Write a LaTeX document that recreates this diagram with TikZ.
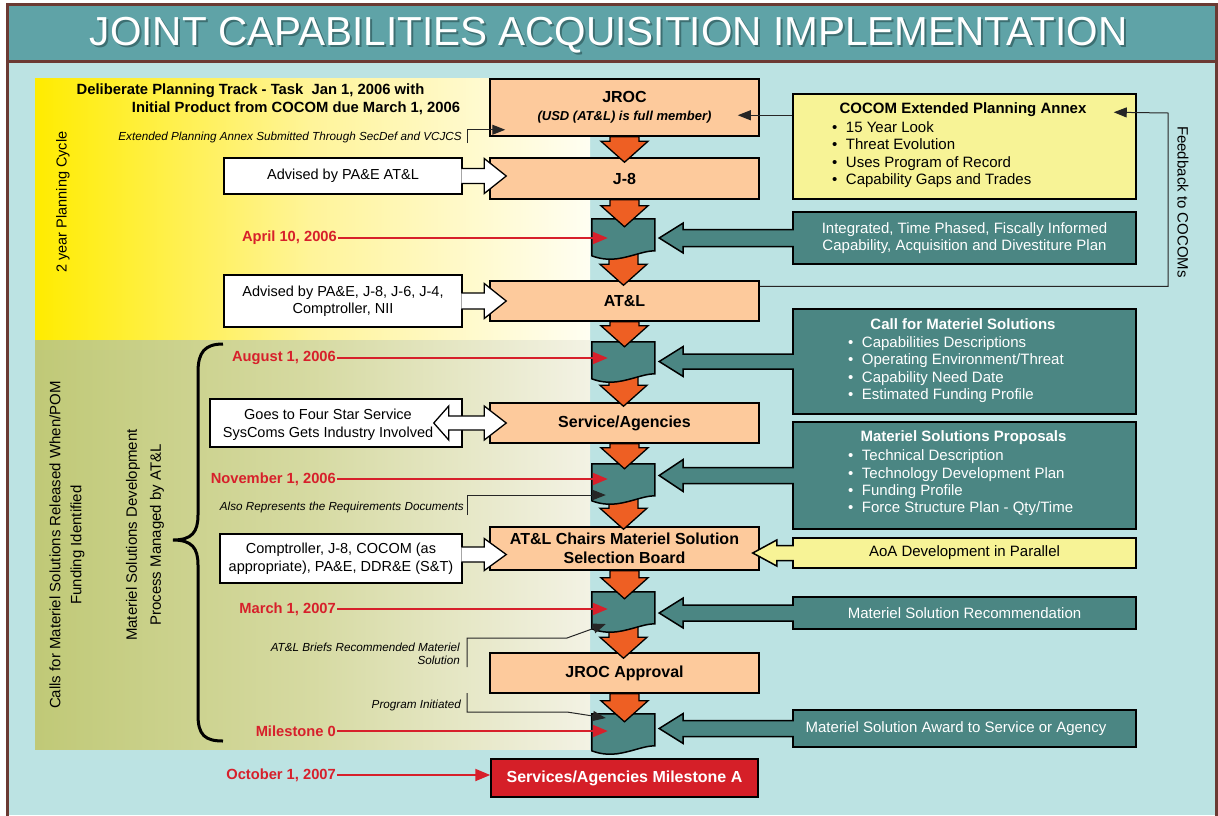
\documentclass[tikz,border=0pt]{standalone}
\usepackage{fontspec}
\setmainfont{Liberation Sans}
\usetikzlibrary{arrows.meta,calc}
\definecolor{cyanbg}{HTML}{BCE3E3}
\definecolor{titleteal}{HTML}{5FA3A7}
\definecolor{framebrown}{HTML}{6B3A33}
\definecolor{peach}{HTML}{FDCA9C}
\definecolor{orangearr}{HTML}{EE5F23}
\definecolor{tealbox}{HTML}{4B8683}
\definecolor{yellowbox}{HTML}{F7F396}
\definecolor{datered}{HTML}{D7202B}
\definecolor{msred}{HTML}{D51F28}
\definecolor{titleshadowc}{HTML}{3D6F72}
\definecolor{ylwL}{HTML}{FFEC00}
\definecolor{ylwM}{HTML}{FFF49A}
\definecolor{ylwR}{HTML}{FFFEF2}
\definecolor{grnL}{HTML}{C0C977}
\definecolor{grnM}{HTML}{D6DAA2}
\definecolor{grnR}{HTML}{F3F2E4}
\newcommand{\myfReg}{\fontsize{14.5}{17.5}\selectfont}
\newcommand{\myfRegB}{\fontsize{15}{17.4}\selectfont}
\newcommand{\myfBoldB}{\fontsize{15}{18}\selectfont\bfseries}
\newcommand{\myfHead}{\fontsize{16}{19.5}\selectfont\bfseries}
\newcommand{\myfNote}{\fontsize{11.7}{13.2}\selectfont\itshape}
\newcommand{\myfDel}{\fontsize{14.8}{17}\selectfont\bfseries}
\newcommand{\myfDate}{\fontsize{14.7}{17}\selectfont\bfseries}
% orange block arrow pointing down from #1 to tip #2
\newcommand{\downblock}[2]{\filldraw[oarr] let \p1=(#1), \p2=(#2) in (\x1-14.5pt,\y1) -- (\x1+14.5pt,\y1) -- (\x1+14.5pt,\y2+21pt) -- (\x1+23.5pt,\y2+21pt) -- (\x1,\y2) -- (\x1-23.5pt,\y2+21pt) -- (\x1-14.5pt,\y2+21pt) -- cycle;}
% callout arrow pointing left out of box #2 to tip #3
\newcommand{\leftcallout}[6]{\filldraw[#1] let \p1=(#3), \p2=(#2.west) in (\x2+1.5pt,\y1+#6) -- (\x1+#4,\y1+#6) -- (\x1+#4,\y1+#5) -- (\x1,\y1) -- (\x1+#4,\y1-#5) -- (\x1+#4,\y1-#6) -- (\x2+1.5pt,\y1-#6);}
% callout arrow pointing right out of box #2 to tip #3
\newcommand{\rightcallout}[6]{\filldraw[#1] let \p1=(#3), \p2=(#2.east) in (\x2-1.5pt,\y1+#6) -- (\x1-#4,\y1+#6) -- (\x1-#4,\y1+#5) -- (\x1,\y1) -- (\x1-#4,\y1-#5) -- (\x1-#4,\y1-#6) -- (\x2-1.5pt,\y1-#6);}
% document shape on an invisible node
\newcommand{\docshape}[1]{\begin{scope}[shift={(#1.north west)}]\filldraw[docst] (0,0) -- (63,0) -- (63,32) .. controls (52,32) and (40,38) .. (25,40) .. controls (15,41) and (8,40) .. (0,37) -- cycle;\end{scope}}
\tikzset{
  pbox/.style={draw=black, line width=1.5, fill=peach, minimum width=269, inner sep=0, align=center, font=\myfHead, text=black},
  wbox/.style={draw=black, line width=1.5, fill=white, inner sep=0, align=center, font=\myfReg},
  tbox/.style={draw=black, line width=1.5, fill=tealbox, minimum width=343, inner sep=0, align=center, text=white, font=\myfRegB},
  ybox/.style={draw=black, line width=1.5, fill=yellowbox, minimum width=343, inner sep=0, align=center, text=black, font=\myfRegB},
  datelbl/.style={font=\myfDate, text=datered, anchor=east, inner sep=1},
  notelbl/.style={font=\myfNote, anchor=east, inner sep=0, align=right},
  listlbl/.style={font=\myfRegB, align=left, anchor=west, inner sep=0},
  oarr/.style={fill=orangearr, draw=black, line width=1.3, line join=miter},
  redarr/.style={draw=datered, line width=2, -{Triangle[length=15pt,width=12pt]}},
  blkarr/.style={draw=black!85, line width=1, -{Triangle[length=13pt,width=10pt]}},
  docst/.style={fill=tealbox, draw=black, line width=1.5},
  docnode/.style={minimum width=63, minimum height=32, inner sep=0},
  wcall/.style={fill=white, draw=black, line width=1.3, line join=miter},
  tcall/.style={fill=tealbox, draw=black, line width=1.5, line join=miter},
  ycall/.style={fill=yellowbox, draw=black, line width=1.5, line join=miter},
}
\begin{document}
\begin{tikzpicture}[x=1pt,y=-1pt]
\useasboundingbox (0,0) rectangle (1218,815);
% background and frame
\fill[white] (0,0) rectangle (1218,815);
\fill[cyanbg] (7,62) rectangle (1216,815);
\fill[titleteal] (7,4) rectangle (1216,61);
\draw[framebrown, line width=3] (7,818) -- (7,4) -- (1216,4) -- (1216,818);
\draw[framebrown, line width=3] (7,61.5) -- (1216,61.5);
\node[font=\fontsize{40.5}{44}\selectfont, text=titleshadowc] (titlesh) at (610.5,37) {JOINT CAPABILITIES ACQUISITION IMPLEMENTATION};
\node[font=\fontsize{40.5}{44}\selectfont, text=white] (title) at (608.5,35) {JOINT CAPABILITIES ACQUISITION IMPLEMENTATION};
% planning regions
\shade[left color=ylwL, right color=ylwR, middle color=ylwM] (35,78) rectangle (590,340);
\shade[left color=grnL, right color=grnR, middle color=grnM] (35,340) rectangle (590,749);
% rotated side labels
\node[rotate=90, font=\fontsize{14.5}{18}\selectfont] (cyc) at (63,202) {2 year Planning Cycle};
\node[rotate=90, align=center, font=\fontsize{15}{21}\selectfont] (calls) at (67,545) {Calls for Materiel Solutions Released When/POM\\Funding Identified};
\node[rotate=90, align=center, font=\fontsize{15}{24}\selectfont] (matdev) at (145,535) {Materiel Solutions Development\\Process Managed by AT\&L};
% brace
\draw[line width=3] (223,344) .. controls (205,344) and (198,352) .. (198,372) -- (198,515) .. controls (198,532) and (192,540) .. (173,540) .. controls (192,540) and (198,548) .. (198,565) -- (198,715) .. controls (198,735) and (205,741) .. (223,741);
% heading text
\node[font=\myfDel] (del1) at (250.5,91) {Deliberate Planning Track - Task\ \ Jan 1, 2006 with};
\node[font=\myfDel] (del2) at (296,108) {Initial Product from COCOM due March 1, 2006};
% notes
\node[notelbl] (n1) at (462,137) {Extended Planning Annex Submitted Through SecDef and VCJCS};
\node[notelbl] (n2) at (464,507) {Also Represents the Requirements Documents};
\node[notelbl] (n3) at (460,653.5) {AT\&L Briefs Recommended Materiel\\Solution};
\node[notelbl] (n4) at (461,705) {Program Initiated};
% dates
\node[datelbl] (apr) at (338,238) {April 10, 2006};
\node[datelbl] (aug) at (337,358) {August 1, 2006};
\node[datelbl] (nov) at (337,479) {November 1, 2006};
\node[datelbl] (mar) at (337,609) {March 1, 2007};
\node[datelbl] (ms0) at (337,731) {Milestone 0};
\node[datelbl] (oct) at (337,775) {October 1, 2007};
% right boxes
\node[ybox, minimum height=105] (cocom) at (964.5,146.5) {};
\node[font=\myfBoldB] (cocomt) at (963,110) {COCOM Extended Planning Annex};
\node[listlbl] (cocoml) at (832,154.5) {\textbullet\hspace{8.5pt}15 Year Look\\\textbullet\hspace{8.5pt}Threat Evolution\\\textbullet\hspace{8.5pt}Uses Program of Record\\\textbullet\hspace{8.5pt}Capability Gaps and Trades};
\node[tbox, minimum height=52] (integ) at (964.5,238) {Integrated, Time Phased, Fiscally Informed\\Capability, Acquisition and Divestiture Plan};
\node[tbox, minimum height=105] (call) at (964.5,361.5) {};
\node[font=\myfBoldB, text=white] (callt) at (963,324) {Call for Materiel Solutions};
\node[listlbl, text=white] (calll) at (848,369.5) {\textbullet\hspace{8.5pt}Capabilities Descriptions\\\textbullet\hspace{8.5pt}Operating Environment/Threat\\\textbullet\hspace{8.5pt}Capability Need Date\\\textbullet\hspace{8.5pt}Estimated Funding Profile};
\node[tbox, minimum height=107] (props) at (964.5,475.5) {};
\node[font=\myfBoldB, text=white] (propst) at (963.5,438) {Materiel Solutions Proposals};
\node[listlbl, text=white] (propsl) at (848,483) {\textbullet\hspace{8.5pt}Technical Description\\\textbullet\hspace{8.5pt}Technology Development Plan\\\textbullet\hspace{8.5pt}Funding Profile\\\textbullet\hspace{8.5pt}Force Structure Plan - Qty/Time};
\node[ybox, minimum height=30] (aoa) at (964.5,553) {AoA Development in Parallel};
\node[tbox, minimum height=32] (rec) at (964.5,613) {Materiel Solution Recommendation};
\node[tbox, minimum height=37] (award) at (964.5,728.5) {Materiel Solution Award to Service or Agency\hspace*{17pt}};
% centre column boxes
\node[pbox, minimum height=57] (jroc) at (624.5,107.5) {JROC\\[-1pt]{\fontsize{13}{15}\selectfont\itshape (USD (AT\&L) is full member)}};
\node[pbox, minimum height=41] (j8) at (624.5,178.5) {J-8};
\node[pbox, minimum height=40] (atl) at (624.5,301) {AT\&L};
\node[pbox, minimum height=40] (serv) at (624.5,423) {Service/Agencies};
\node[pbox, minimum height=43] (chairs) at (624.5,548.5) {AT\&L Chairs Materiel Solution\\Selection Board};
\node[pbox, minimum height=40] (jrocapp) at (624.5,673) {JROC Approval};
\node[pbox, fill=msred, text=white, minimum height=38, minimum width=267] (msa) at (624.5,778) {Services/Agencies Milestone A};
% document nodes
\node[docnode] (d1) at (623.5,235) {};
\node[docnode] (d2) at (623.5,358) {};
\node[docnode] (d3) at (623.5,480) {};
\node[docnode] (d4) at (623.5,608) {};
\node[docnode] (d5) at (623.5,730) {};
% feedback and COCOM connectors
\coordinate (fbc) at (1168,113);
\draw[blkarr] ($(atl.north east)+(0,6)$) -| (fbc) -- ($(cocom.north east)+(-23,19)$);
\node[rotate=-90, font=\fontsize{15}{18}\selectfont] (fbtxt) at (1183,202) {Feedback to COCOMs};
\draw[blkarr] ($(cocom.north west)+(0,22)$) -- ($(jroc.north east)+(-22,37)$);
% orange arrows leaving documents (behind documents)
\downblock{d1.south}{$(atl.north)+(0,5)$}
\downblock{d2.south}{$(serv.north)+(0,4)$}
\downblock{d3.south}{$(chairs.north)+(0,3)$}
\downblock{d4.south}{$(jrocapp.north)+(0,6)$}
% documents
\docshape{d1}
\docshape{d2}
\docshape{d3}
\docshape{d4}
\docshape{d5}
% orange arrows leaving boxes
\downblock{jroc.south}{$(j8.north)+(0,5)$}
\downblock{j8.south}{$(d1.north)+(0,8)$}
\downblock{atl.south}{$(d2.north)+(0,5)$}
\downblock{serv.south}{$(d3.north)+(0,5)$}
\downblock{chairs.south}{$(d4.north)+(0,7)$}
\downblock{jrocapp.south}{$(d5.north)+(0,8)$}
% white advisory boxes
\node[wbox, minimum width=238, minimum height=36] (adv1) at (343,176) {Advised by PA\&E AT\&L};
\node[wbox, minimum width=238, minimum height=52] (adv2) at (343,301) {Advised by PA\&E, J-8, J-6, J-4,\\Comptroller, NII};
\node[wbox, minimum width=252, minimum height=48] (goes) at (336,423) {};
\node[wbox, minimum width=242, minimum height=49] (comp) at (341,558.5) {Comptroller, J-8, COCOM (as\\appropriate), PA\&E, DDR\&E (S\&T)};
\rightcallout{wcall}{adv1}{$(adv1.east -| j8.west)+(17,0)$}{22pt}{17.5pt}{7.5pt}
\rightcallout{wcall}{adv2}{$(adv2.east -| atl.west)+(17,0)$}{22pt}{17.5pt}{8pt}
\rightcallout{wcall}{comp}{$(chairs.west)+(17,6)$}{22pt}{16pt}{7.5pt}
\filldraw[wcall] let \p1=(goes.east), \p2=($(goes.east -| serv.west)+(17,0)$) in (\x1-29pt,\y1) -- (\x1-14pt,\y1+17pt) -- (\x1-14pt,\y1+7pt) -- (\x2-22pt,\y1+7pt) -- (\x2-22pt,\y1+17pt) -- (\x2,\y1) -- (\x2-22pt,\y1-17pt) -- (\x2-22pt,\y1-7pt) -- (\x1-14pt,\y1-7pt) -- (\x1-14pt,\y1-17pt) -- cycle;
\node[font=\myfReg, align=center] (goestxt) at (328,424.5) {Goes to Four Star Service\\SysComs Gets Industry Involved};
% right callout arrows
\leftcallout{tcall}{integ}{$(integ.west -| d1.east)+(4,0)$}{24pt}{15pt}{8.5pt}
\leftcallout{tcall}{call}{$(call.west -| d2.east)+(4,0)$}{24pt}{15pt}{7.5pt}
\leftcallout{tcall}{props}{$(props.west -| d3.east)+(4,0)$}{24pt}{16pt}{8pt}
\leftcallout{ycall}{aoa}{$(aoa.west -| chairs.east)+(-7,0)$}{24pt}{13pt}{7.5pt}
\leftcallout{tcall}{rec}{$(rec.west -| d4.east)+(4,0)$}{24pt}{15pt}{8pt}
\leftcallout{tcall}{award}{$(award.west -| d5.east)+(4,0)$}{24pt}{15pt}{8pt}
% date arrows
\draw[redarr] (apr.east) -- ($(apr.east -| d1.west)+(16,0)$);
\draw[redarr] (aug.east) -- ($(aug.east -| d2.west)+(16,0)$);
\draw[redarr] (nov.east) -- ($(nov.east -| d3.west)+(16,0)$);
\draw[redarr] (mar.east) -- ($(mar.east -| d4.west)+(16,0)$);
\draw[redarr] (ms0.east) -- ($(ms0.east -| d5.west)+(16,0)$);
\draw[redarr] (oct.east) -- (oct.east -| msa.west);
% note connectors
\draw[blkarr] ($(n1.east)+(5,6)$) |- ($(jroc.south west)+(16,-7)$);
\draw[blkarr] ($(n2.east)+(3,8)$) |- ($(d3.west)+(14,15)$);
\draw[blkarr] ($(n3.east)+(7,13.5)$) -- ($(n3.east)+(7,-15.5)$) -- ($(n3.east)+(107,-15.5)$) -- ($(d4.west)+(14,16)$);
\draw[blkarr] ($(n4.east)+(6,-12)$) -- ($(n4.east)+(6,7)$) -- ($(n4.east)+(106,7)$) -- ($(d5.west)+(14,-12)$);
\end{tikzpicture}
\end{document}
